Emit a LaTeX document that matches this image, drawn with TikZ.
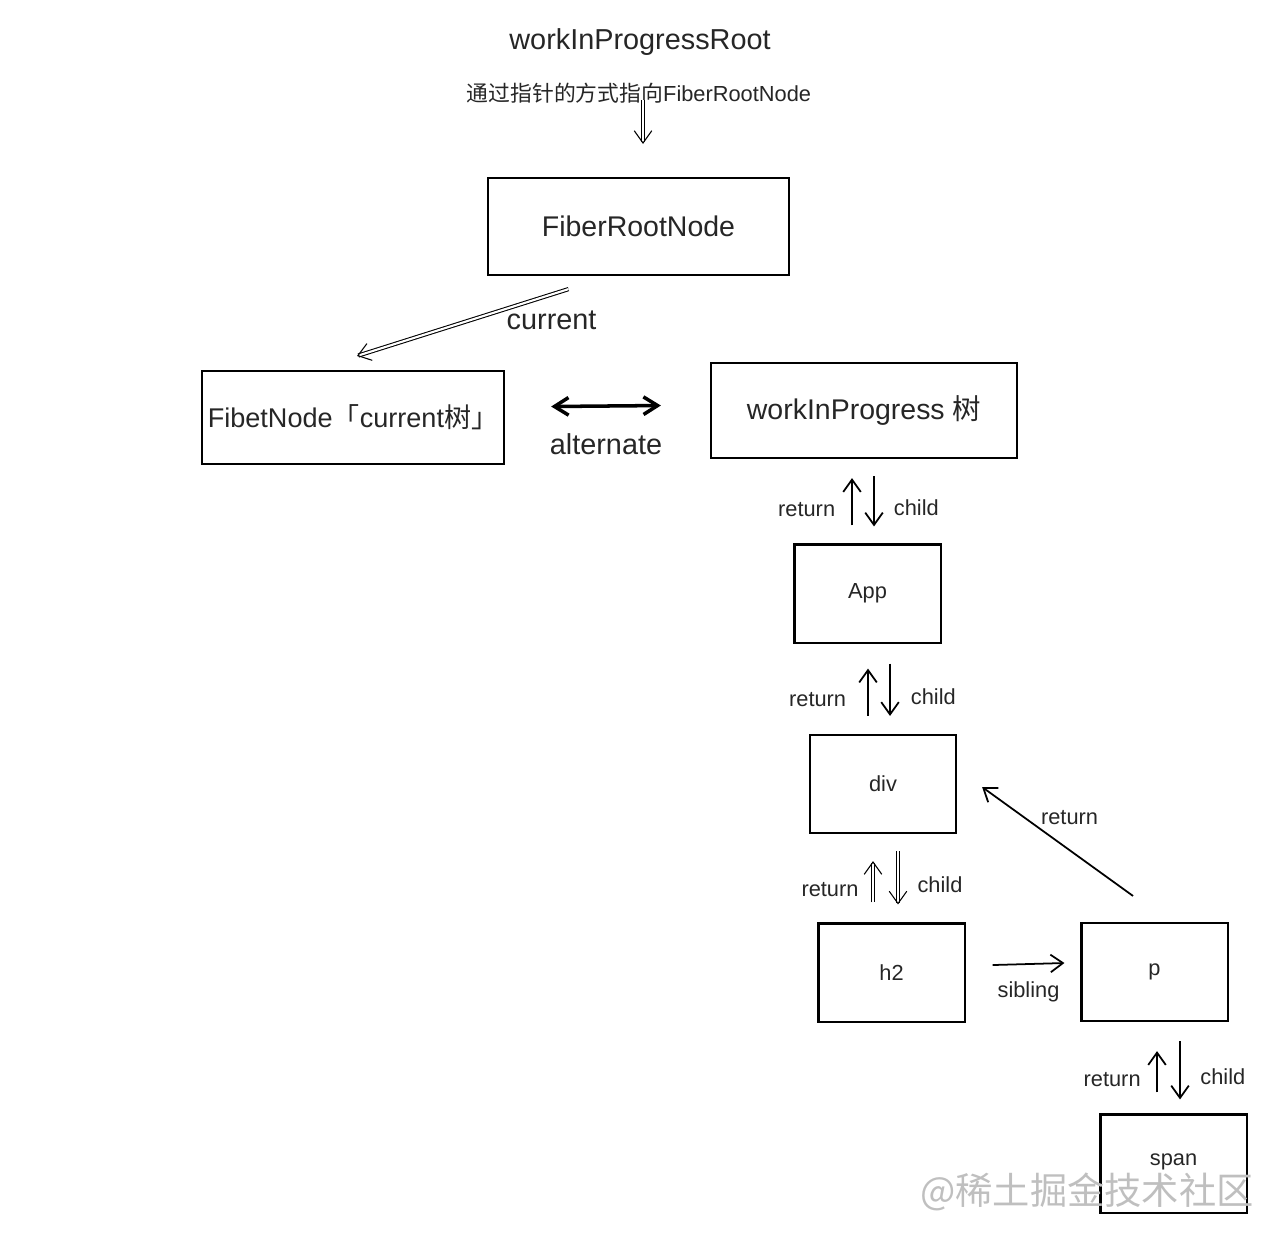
\documentclass[tikz,border=0pt]{standalone}
\usepackage{fontspec}
\setmainfont{Liberation Sans}
\newfontfamily\cjk{Noto Sans CJK SC}
\usetikzlibrary{arrows.meta}

\tikzset{
  box/.style={draw, line width=0.6pt, inner sep=0pt, text=black!85, font=\fontsize{8.1}{10}\selectfont},
  smallbox/.style={box, minimum width=1.46cm, minimum height=0.98cm, font=\fontsize{6.2}{8}\selectfont},
  bigtxt/.style={text=black!85, font=\fontsize{8.2}{10}\selectfont},
  lab/.style={inner sep=0pt, text=black!85, font=\fontsize{6.2}{8}\selectfont},
  side/.style={lab, text height=0.75em, text depth=0.25em, yshift=-1.6pt},
  link/.style={line width=0.5pt, -{Straight Barb[length=3.5pt,width=5pt]}},
  hollow/.style={link, double, line width=0.3pt, double distance=0.6pt},
}

\begin{document}
\begin{tikzpicture}[x=0.01cm, y=-0.01cm]
\useasboundingbox (0,0) rectangle (1286,1238);

% the root pointer
\node[bigtxt] (root) at (640,42) {workInProgressRoot};
\node[text=black!85, font=\fontsize{6.2}{8}\selectfont] (hint) at (639,93) {{\cjk 通过指针的方式指向}FiberRootNode};
\coordinate (ptr) at (643,100);

% the boxes
\node[box, minimum width=3.01cm, minimum height=0.97cm] (frn) at (638.5,226.5) {FiberRootNode};
\node[box, minimum width=3.02cm, minimum height=0.93cm, font=\fontsize{7.7}{10}\selectfont] (cur) at (353,417.5) {FibetNode{\cjk「}current{\cjk 树」}};
\node[box, minimum width=3.06cm, minimum height=0.95cm] (wip) at (864,410.5) {workInProgress {\cjk 树}};
\node[smallbox] (app) at (867.5,593.5) {App};
\node[smallbox] (div) at (883,784) {div};
\node[smallbox] (htwo) at (891.5,972.5) {h2};
\node[smallbox] (par) at (1154.5,972) {p};
\node[smallbox] (span) at (1173.5,1163.5) {\raisebox{2pt}{span}};

\draw[hollow] (ptr) -- ([shift={(4.5,-33)}]frn.north);

\draw[hollow] ([shift={(-70,13)}]frn.south) -- ([shift={(4,-14)}]cur.north)
  node[bigtxt, pos=0.08, yshift=-0.26cm] {current};
\draw[line width=1pt, {Straight Barb[length=4pt,width=5pt]}-{Straight Barb[length=4pt,width=5pt]}]
  ([shift={(46,-11)}]cur.east) -- ([shift={(-49,-5)}]wip.west)
  node[bigtxt, midway, yshift=-0.38cm] {alternate};

% return / child pairs
\draw[link] ([shift={(-15.5,-18)}]app.north) -- ([shift={(-12,19)}]wip.south)
  node[side, midway, left=0.16cm] {return};
\draw[link] ([shift={(10,17)}]wip.south) -- ([shift={(6.5,-17)}]app.north)
  node[side, midway, right=0.19cm] {child};

\draw[link] ([shift={(-15,-18)}]div.north) -- ([shift={(0.5,25)}]app.south)
  node[side, midway, left=0.21cm] {return};
\draw[link] ([shift={(22.5,20)}]app.south) -- ([shift={(7,-18)}]div.north)
  node[side, midway, right=0.2cm] {child};

\draw[hollow] ([shift={(-18.5,-20)}]htwo.north) -- ([shift={(-10,27)}]div.south)
  node[side, midway, left=0.14cm] {return};
\draw[hollow] ([shift={(15,17)}]div.south) -- ([shift={(6.5,-18)}]htwo.north)
  node[side, midway, right=0.19cm] {child};

\draw[link] ([shift={(27,-7.5)}]htwo.east) -- ([shift={(-16,-9)}]par.west)
  node[lab, midway, below=0.17cm] {sibling};
\draw[link] ([shift={(-21.5,-26)}]par.north) -- ([shift={(25,3)}]div.east)
  node[lab, midway, shift={(12,-24)}] {return};

\draw[link] ([shift={(-16.5,-21)}]span.north) -- ([shift={(2.5,29)}]par.south)
  node[side, midway, left=0.155cm] {return};
\draw[link] ([shift={(25.5,19)}]par.south) -- ([shift={(6.5,-14)}]span.north)
  node[side, midway, right=0.195cm] {child};

% watermark
\node[text=black!25, font=\fontsize{10.6}{12}\selectfont] (wm) at (1087,1192) {\cjk @稀土掘金技术社区};
\end{tikzpicture}
\end{document}
